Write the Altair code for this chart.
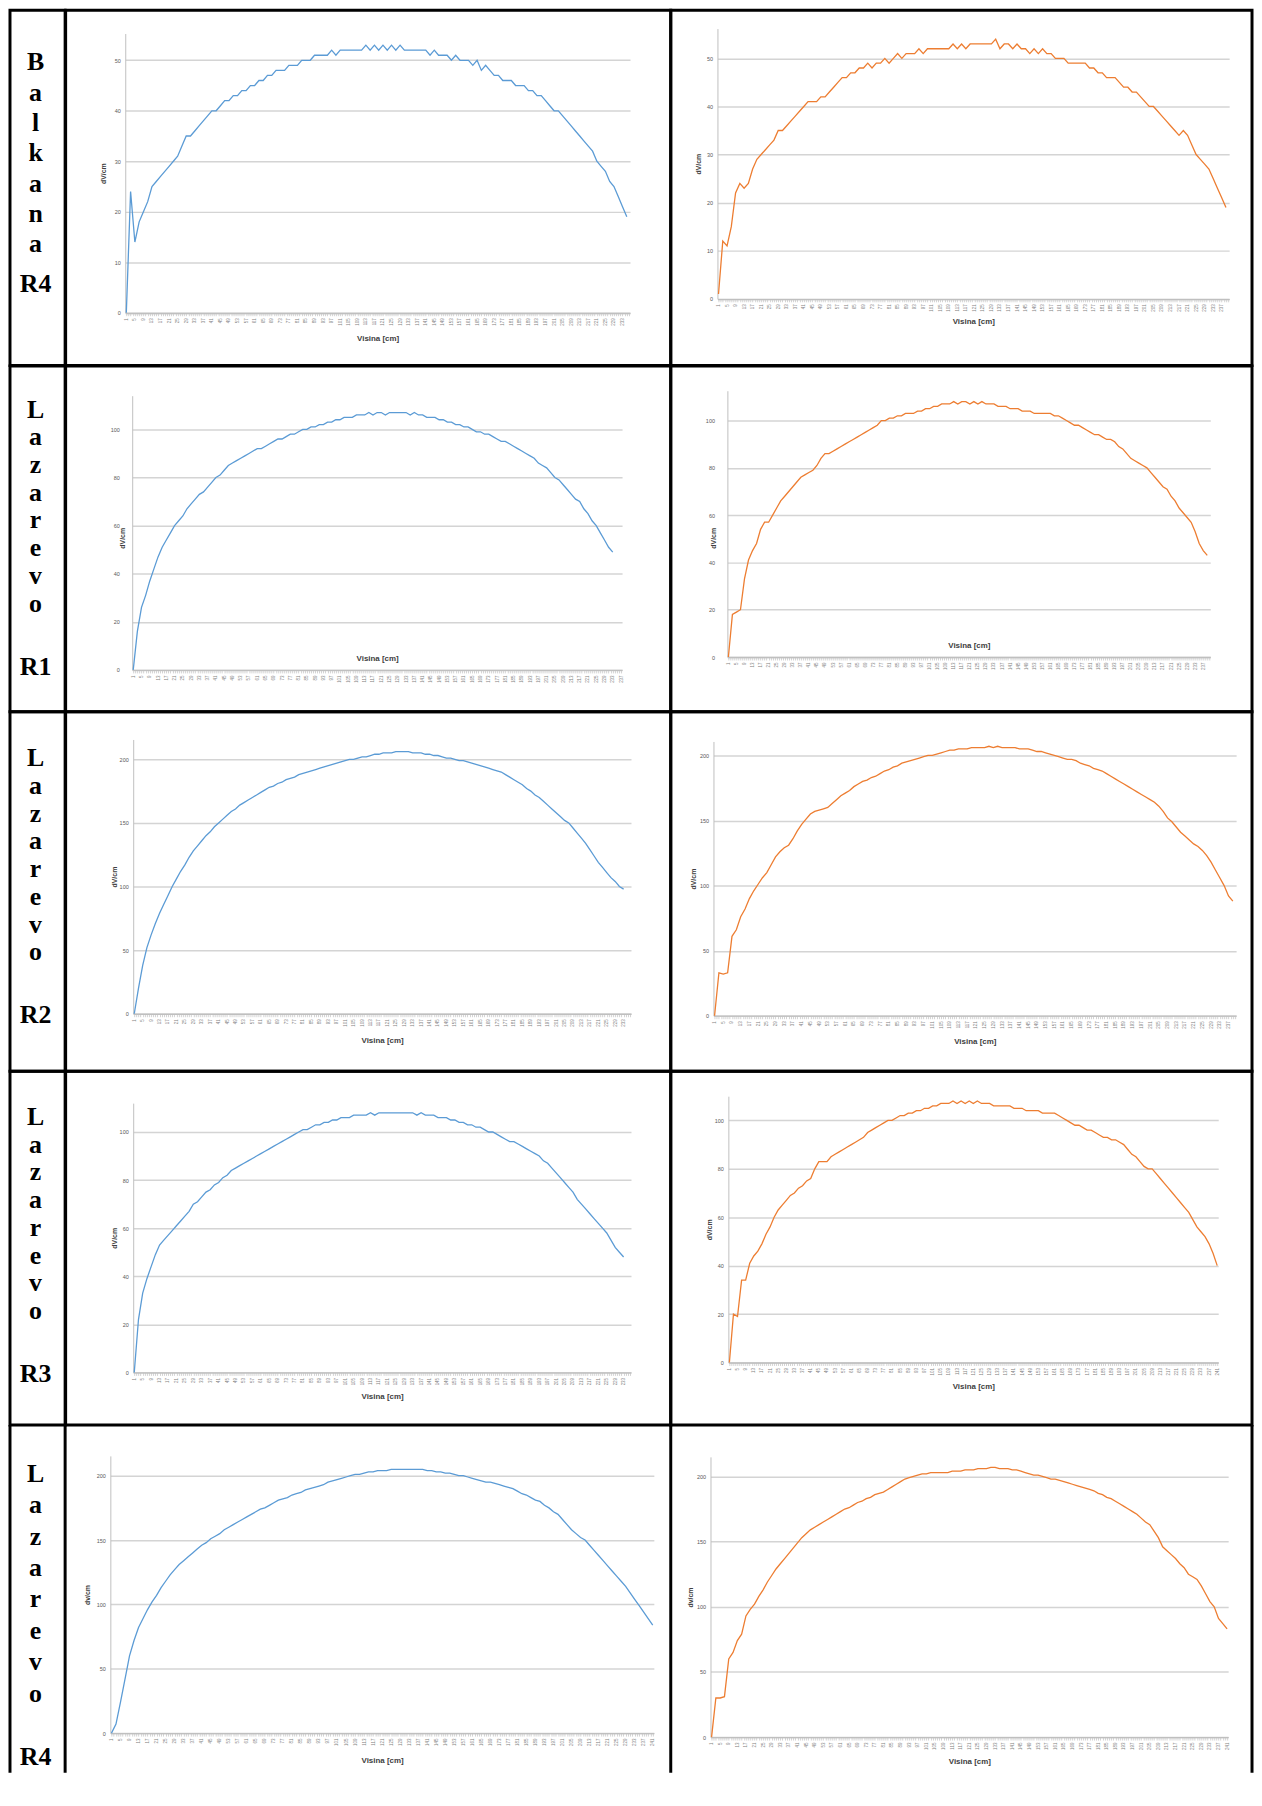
import altair as alt
import pandas as pd

# ---------------- data ----------------
places = ["Balkana", "Lazarevo", "Lazarevo", "Lazarevo", "Lazarevo"]
codes = ["R4", "R1", "R2", "R3", "R4"]
y_titles = ["dV/cm", "dV/cm", "dV/cm", "dV/cm", "dv/cm"]
x_title = "Visina [cm]"

# values at Visina = 1, 3, 5, ... cm
blue_r1 = [0, 24, 14, 18, 20, 22, 25, 26, 27, 28,
           29, 30, 31, 33, 35, 35, 36, 37, 38, 39,
           40, 40, 41, 42, 42, 43, 43, 44, 44, 45,
           45, 46, 46, 47, 47, 48, 48, 48, 49, 49,
           49, 50, 50, 50, 51, 51, 51, 51, 52, 51,
           52, 52, 52, 52, 52, 52, 53, 52, 53, 52,
           53, 52, 53, 52, 53, 52, 52, 52, 52, 52,
           52, 51, 52, 51, 51, 51, 50, 51, 50, 50,
           50, 49, 50, 48, 49, 48, 47, 47, 46, 46,
           46, 45, 45, 45, 44, 44, 43, 43, 42, 41,
           40, 40, 39, 38, 37, 36, 35, 34, 33, 32,
           30, 29, 28, 26, 25, 23, 21, 19]
orange_r1 = [1, 12, 11, 15, 22, 24, 23, 24, 27, 29,
             30, 31, 32, 33, 35, 35, 36, 37, 38, 39,
             40, 41, 41, 41, 42, 42, 43, 44, 45, 46,
             46, 47, 47, 48, 48, 49, 48, 49, 49, 50,
             49, 50, 51, 50, 51, 51, 51, 52, 51, 52,
             52, 52, 52, 52, 52, 53, 52, 53, 52, 53,
             53, 53, 53, 53, 53, 54, 52, 53, 53, 52,
             53, 52, 52, 51, 52, 51, 52, 51, 51, 50,
             50, 50, 49, 49, 49, 49, 49, 48, 48, 47,
             47, 46, 46, 46, 45, 44, 44, 43, 43, 42,
             41, 40, 40, 39, 38, 37, 36, 35, 34, 35,
             34, 32, 30, 29, 28, 27, 25, 23, 21, 19]
blue_r2 = [0, 16, 26, 31, 37, 42, 47, 51, 54, 57,
           60, 62, 64, 67, 69, 71, 73, 74, 76, 78,
           80, 81, 83, 85, 86, 87, 88, 89, 90, 91,
           92, 92, 93, 94, 95, 96, 96, 97, 98, 98,
           99, 100, 100, 101, 101, 102, 102, 103, 103, 104,
           104, 105, 105, 105, 106, 106, 106, 107, 106, 107,
           107, 106, 107, 107, 107, 107, 107, 106, 107, 106,
           106, 105, 105, 105, 104, 104, 103, 103, 102, 102,
           101, 101, 100, 99, 99, 98, 98, 97, 96, 95,
           95, 94, 93, 92, 91, 90, 89, 88, 86, 85,
           84, 82, 80, 79, 77, 75, 73, 71, 70, 67,
           65, 62, 60, 57, 54, 51, 49]
orange_r2 = [0, 18, 19, 20, 33, 41, 45, 48, 54, 57,
             57, 60, 63, 66, 68, 70, 72, 74, 76, 77,
             78, 79, 81, 84, 86, 86, 87, 88, 89, 90,
             91, 92, 93, 94, 95, 96, 97, 98, 100, 100,
             101, 101, 102, 102, 103, 103, 103, 104, 104, 105,
             105, 106, 106, 107, 107, 107, 108, 107, 108, 108,
             107, 108, 107, 108, 107, 107, 107, 106, 106, 106,
             105, 105, 105, 104, 104, 104, 103, 103, 103, 103,
             103, 102, 102, 101, 100, 99, 98, 98, 97, 96,
             95, 94, 94, 93, 92, 92, 91, 89, 88, 86,
             84, 83, 82, 81, 80, 78, 76, 74, 72, 71,
             68, 66, 63, 61, 59, 57, 53, 48, 45, 43]
blue_r3 = [0, 20, 38, 52, 62, 71, 79, 86, 93, 100,
           106, 112, 117, 123, 128, 132, 136, 140, 143, 147,
           150, 153, 156, 159, 161, 164, 166, 168, 170, 172,
           174, 176, 178, 179, 181, 182, 184, 185, 186, 188,
           189, 190, 191, 192, 193, 194, 195, 196, 197, 198,
           199, 200, 200, 201, 202, 202, 203, 204, 204, 205,
           205, 205, 206, 206, 206, 206, 205, 205, 205, 204,
           204, 203, 203, 202, 201, 201, 200, 199, 199, 198,
           197, 196, 195, 194, 193, 192, 191, 190, 188, 186,
           184, 182, 180, 177, 175, 172, 170, 167, 164, 161,
           158, 155, 152, 150, 146, 142, 138, 134, 129, 124,
           119, 115, 111, 107, 104, 100, 98]
orange_r3 = [0, 33, 32, 33, 61, 66, 76, 82, 90, 96,
             101, 106, 110, 116, 122, 126, 129, 131, 136, 142,
             147, 151, 155, 157, 158, 159, 160, 163, 166, 169,
             171, 173, 176, 178, 180, 181, 183, 184, 186, 188,
             189, 191, 192, 194, 195, 196, 197, 198, 199, 200,
             200, 201, 202, 203, 204, 204, 205, 205, 205, 206,
             206, 206, 206, 207, 206, 207, 206, 206, 206, 206,
             205, 205, 205, 204, 203, 203, 202, 201, 200, 199,
             198, 197, 197, 196, 194, 193, 192, 190, 189, 188,
             186, 184, 182, 180, 178, 176, 174, 172, 170, 168,
             166, 164, 161, 157, 152, 149, 145, 141, 138, 135,
             132, 130, 127, 123, 118, 112, 106, 100, 92, 88]
blue_r4 = [0, 22, 33, 39, 44, 49, 53, 55, 57, 59,
           61, 63, 65, 67, 70, 71, 73, 75, 76, 78,
           79, 81, 82, 84, 85, 86, 87, 88, 89, 90,
           91, 92, 93, 94, 95, 96, 97, 98, 99, 100,
           101, 101, 102, 103, 103, 104, 104, 105, 105, 106,
           106, 106, 107, 107, 107, 107, 108, 107, 108, 108,
           108, 108, 108, 108, 108, 108, 108, 107, 108, 107,
           107, 107, 106, 106, 106, 105, 105, 104, 104, 103,
           103, 102, 102, 101, 100, 100, 99, 98, 97, 96,
           96, 95, 94, 93, 92, 91, 90, 88, 87, 85,
           83, 81, 79, 77, 75, 72, 70, 68, 66, 64,
           62, 60, 58, 55, 52, 50, 48]
orange_r4 = [0, 20, 19, 34, 34, 41, 44, 46, 49, 53,
             56, 60, 63, 65, 67, 69, 70, 72, 73, 75,
             76, 80, 83, 83, 83, 85, 86, 87, 88, 89,
             90, 91, 92, 93, 95, 96, 97, 98, 99, 100,
             100, 101, 102, 102, 103, 103, 104, 104, 105, 105,
             106, 106, 107, 107, 107, 108, 107, 108, 107, 108,
             107, 108, 107, 107, 107, 106, 106, 106, 106, 106,
             105, 105, 105, 104, 104, 104, 104, 103, 103, 103,
             103, 102, 101, 100, 99, 98, 98, 97, 96, 96,
             95, 94, 93, 93, 92, 92, 91, 90, 88, 86,
             85, 83, 81, 80, 80, 78, 76, 74, 72, 70,
             68, 66, 64, 62, 59, 56, 54, 52, 49, 45,
             40]
blue_r5 = [0, 7, 24, 42, 60, 72, 82, 89, 96, 102,
           107, 113, 118, 123, 127, 131, 134, 137, 140, 143,
           146, 148, 151, 153, 155, 158, 160, 162, 164, 166,
           168, 170, 172, 174, 175, 177, 179, 181, 182, 183,
           185, 186, 187, 189, 190, 191, 192, 193, 195, 196,
           197, 198, 199, 200, 201, 201, 202, 203, 203, 204,
           204, 204, 205, 205, 205, 205, 205, 205, 205, 205,
           204, 204, 203, 203, 202, 202, 201, 200, 200, 199,
           198, 197, 196, 195, 195, 194, 193, 192, 191, 190,
           188, 186, 185, 183, 181, 180, 177, 175, 172, 170,
           166, 162, 158, 155, 152, 150, 146, 142, 138, 134,
           130, 126, 122, 118, 114, 109, 104, 99, 94, 89,
           84]
orange_r5 = [0, 30, 30, 31, 60, 65, 74, 79, 93, 98,
             102, 108, 113, 119, 124, 129, 133, 137, 141, 145,
             149, 153, 156, 159, 161, 163, 165, 167, 169, 171,
             173, 175, 176, 178, 180, 181, 183, 184, 186, 187,
             188, 190, 192, 194, 196, 198, 199, 200, 201, 202,
             202, 203, 203, 203, 203, 203, 204, 204, 204, 205,
             205, 205, 206, 206, 206, 207, 207, 206, 206, 206,
             205, 205, 204, 203, 202, 201, 201, 200, 199, 198,
             198, 197, 196, 195, 194, 193, 192, 191, 190, 189,
             187, 186, 184, 183, 181, 179, 177, 175, 173, 171,
             168, 165, 163, 158, 153, 146, 143, 140, 137, 133,
             130, 125, 123, 121, 116, 110, 104, 100, 91, 87,
             83]

blue_series = [blue_r1, blue_r2, blue_r3, blue_r4, blue_r5]
orange_series = [orange_r1, orange_r2, orange_r3, orange_r4, orange_r5]
n_cat_blue = [236, 237, 236, 236, 241]
n_cat_orange = [240, 240, 240, 241, 241]
y_max_blue = [55.3, 114, 215.6, 112, 215.4]
y_max_orange = [56.2, 112.6, 210.7, 110, 215]
y_step = [10, 20, 50, 20, 50]

# ---------------- layout / style ----------------
BLUE = "#5b9bd5"
ORANGE = "#ed7d31"
row_h = [357.5, 348, 362, 356, 350]
col_w = [55.5, 609, 585]
# (axis x, plot right, y of zero, y of top, x-title dy, y-title dx, y label padding, y-title y)
lay_blue = [(60, 568, 304.5, 23.5, 26, -22, 5, None),
            (67, 560, 306, 30, -12, -10, 13, 173),
            (68, 569, 304, 28, 27, -19, 5, None),
            (68, 569, 303, 32, 24, -19, 5, None),
            (45, 592, 310, 31, 28, -23, 5, None)]
lay_orange = [(47, 562, 290.5, 18.5, 23, -19, 5, None),
              (57, 543, 293, 25, -12, -14, 13, 173),
              (43, 569, 306, 30, 26, -20, 5, None),
              (58, 551, 293, 25, 24, -19, 5, None),
              (40, 561, 314, 32, 25, -20, 5, None)]
# (centre of first letter, line height, y of code label)
lay_label = [(52.5, 30.5, 275.5), (44, 27.9, 303), (47, 27.9, 305),
             (46, 27.9, 305), (49, 31.6, 334)]

FONT = "Liberation Sans"
BORDER = alt.ViewBackground(stroke="black", strokeWidth=3)


def edge_rules(xs, h):
    out = []
    for xv in xs:
        out.append(alt.Chart(pd.DataFrame({"e": [0]})).mark_rule(
            color="black", strokeWidth=3).encode(
            x=alt.value(xv), y=alt.value(0), y2=alt.value(h)))
    return out


def panel(vals, color, ncat, ymax, ystep, ytitle, lay, w, h, last_row):
    ax, right, y0, ytop, tdy, tdx, lp, ty = lay
    df = pd.DataFrame({"x": list(range(1, 2 * len(vals), 2)), "v": vals})
    xsc = alt.Scale(domain=[0.5, ncat + 0.5], range=[ax, right], nice=False, zero=False)
    ysc = alt.Scale(domain=[0, ymax], range=[y0, ytop], nice=False, zero=True)
    yvals = [k * ystep for k in range(int(ymax // ystep) + 1)]
    xaxis = alt.Axis(
        title=x_title, values=list(range(1, ncat + 1)), format="d",
        labelExpr="(datum.value - 1) % 4 == 0 ? datum.label : ''",
        labelAngle=-90, labelFontSize=4.5, labelColor="#7f7f7f", labelFont=FONT,
        labelPadding=2, labelOverlap=False, labelFlush=False,
        tickColor="#c8c8c8", tickSize=3, tickWidth=0.8,
        domainColor="#bfbfbf", domainWidth=1.3, grid=False,
        offset=y0 - h, titleY=tdy, titleBaseline="middle",
        titleFont=FONT, titleFontSize=8, titleFontWeight="bold", titleColor="#404040")
    ykw = dict(
        title=ytitle, values=yvals, ticks=False,
        grid=True, gridColor="#d4d4d4", gridWidth=1.5,
        labelFontSize=5.5, labelColor="#595959", labelFont=FONT, labelPadding=lp,
        domainColor="#bfbfbf", domainWidth=1, offset=-ax,
        titleX=tdx, titleBaseline="middle",
        titleFont=FONT, titleFontSize=7, titleFontWeight="bold", titleColor="#404040")
    if ty is not None:
        ykw["titleY"] = ty
    yaxis = alt.Axis(**ykw)
    line = alt.Chart(df).mark_line(color=color, strokeWidth=1.3).encode(
        x=alt.X("x:Q", scale=xsc, axis=xaxis),
        y=alt.Y("v:Q", scale=ysc, axis=yaxis))
    if last_row:
        return alt.layer(line, *edge_rules([w], h)).properties(width=w, height=h)
    return line.properties(width=w, height=h, view=BORDER)


def label_cell(word, code, w, h, lay, last_row):
    first, lh, code_y = lay
    df = pd.DataFrame({"t": ["\n".join(word)], "c": [code]})
    style = dict(font="Liberation Serif", fontSize=26, fontWeight="bold",
                 color="black", align="center", baseline="middle")
    t1 = alt.Chart(df).mark_text(lineBreak="\n", lineHeight=lh, **style).encode(
        text="t:N", x=alt.value(w / 2 - 2), y=alt.value(first))
    t2 = alt.Chart(df).mark_text(**style).encode(
        text="c:N", x=alt.value(w / 2 - 2), y=alt.value(code_y))
    layers = [t1, t2]
    if last_row:
        layers += edge_rules([0, w], h)
        return alt.layer(*layers).properties(width=w, height=h)
    return alt.layer(*layers).properties(width=w, height=h, view=BORDER)


cells = []
for i in range(5):
    last = (i == 4)
    cells.append(label_cell(places[i], codes[i], col_w[0], row_h[i], lay_label[i], last))
    cells.append(panel(blue_series[i], BLUE, n_cat_blue[i], y_max_blue[i], y_step[i],
                       y_titles[i], lay_blue[i], col_w[1], row_h[i], last))
    cells.append(panel(orange_series[i], ORANGE, n_cat_orange[i], y_max_orange[i], y_step[i],
                       y_titles[i], lay_orange[i], col_w[2], row_h[i], last))

chart = alt.concat(*cells, columns=3, spacing=0, bounds="flush",
                   padding={"top": -5.5, "left": 0, "right": 0, "bottom": 0}
                   ).configure_view(strokeWidth=0)

chart.save("out.html", embed_options={"renderer": "svg", "actions": False})
